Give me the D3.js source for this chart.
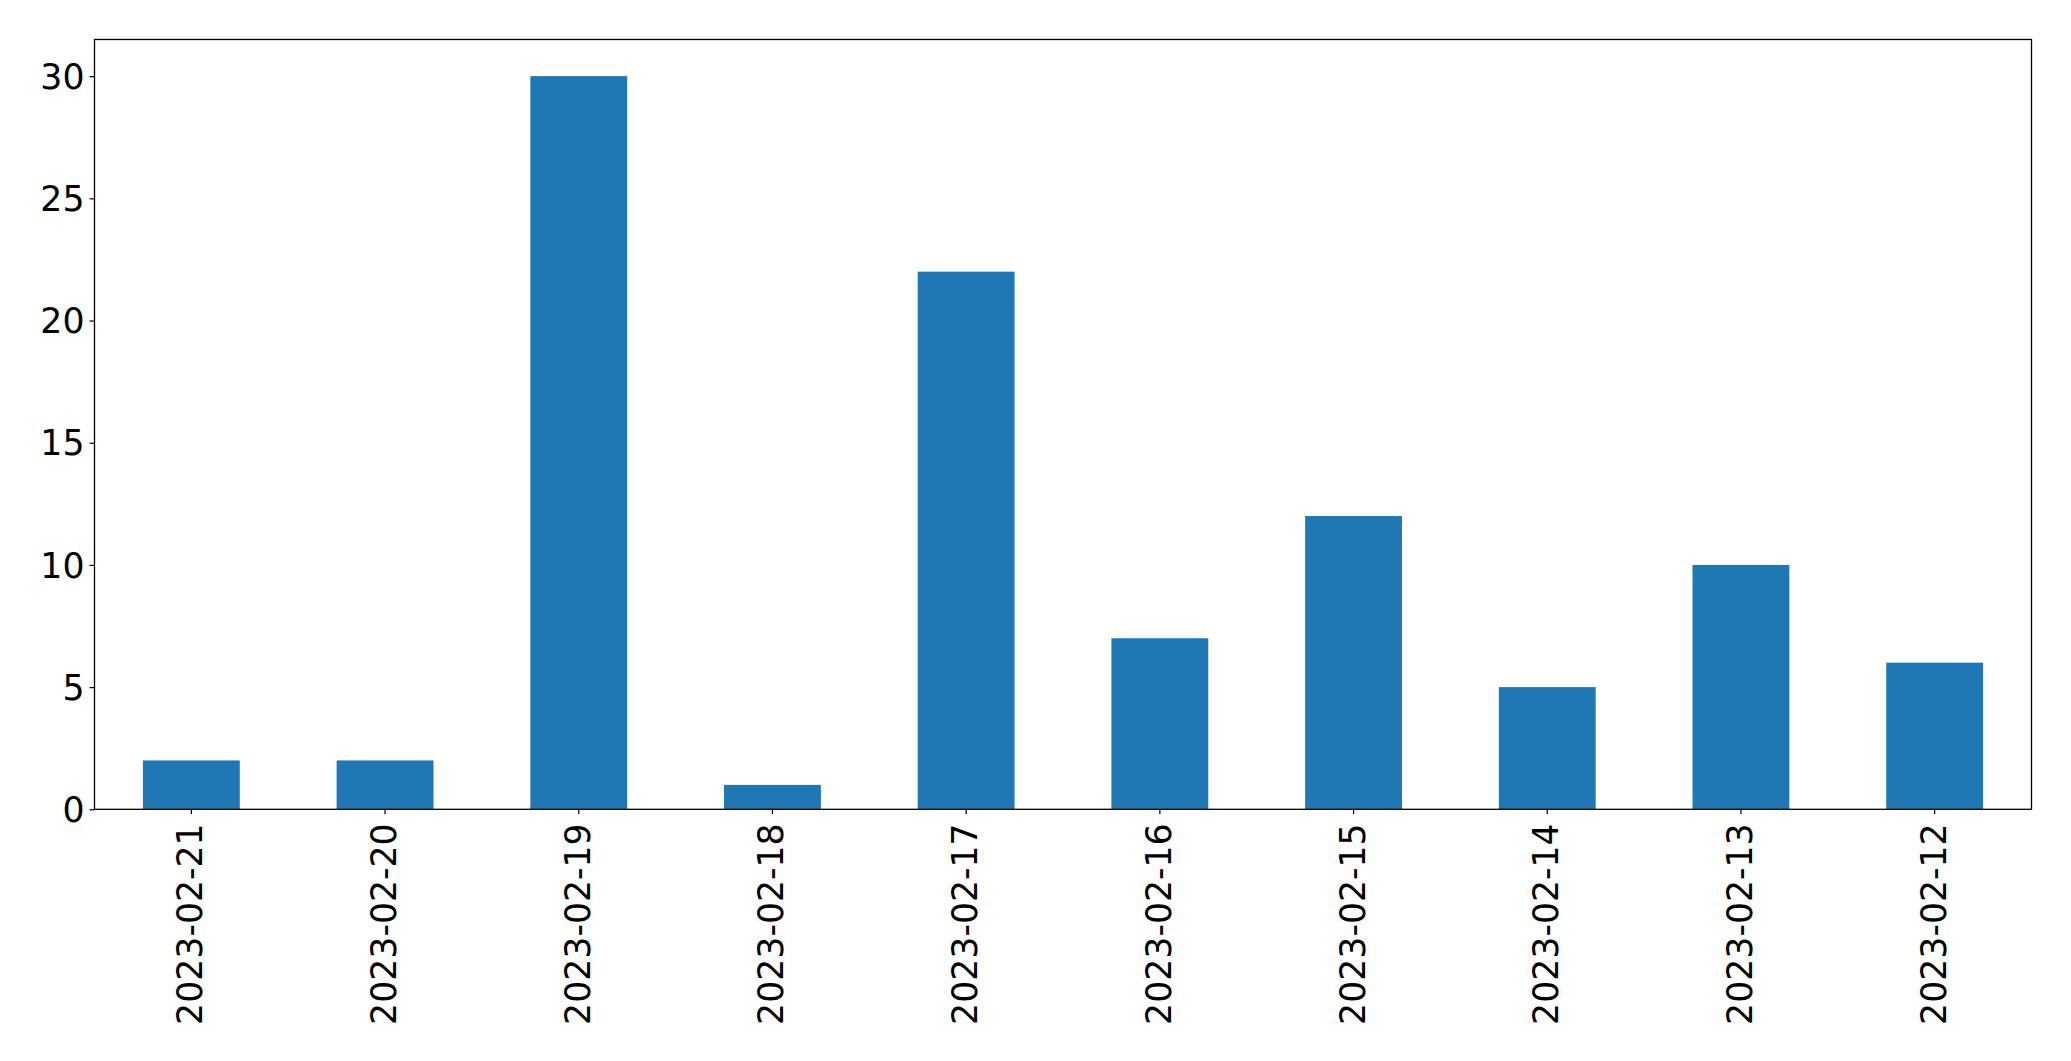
<!DOCTYPE html>
<html>
<head>
<meta charset="utf-8">
<script src="https://cdn.jsdelivr.net/npm/d3@7"></script>
<style>
html, body { margin: 0; padding: 0; background: #fff; }
svg { display: block; }
text { font-family: "DejaVu Sans", sans-serif; fill: #000; }
</style>
</head>
<body>
<svg id="chart" width="2071" height="1061"></svg>
<script>
const categories = ["2023-02-21", "2023-02-20", "2023-02-19", "2023-02-18", "2023-02-17", "2023-02-16", "2023-02-15", "2023-02-14", "2023-02-13", "2023-02-12"];
const values = [2, 2, 30, 1, 22, 7, 12, 5, 10, 6];
const yTicks = [0, 5, 10, 15, 20, 25, 30];

const W = 2071, H = 1061;
const margin = { left: 94.5, right: W - 2031.5, top: 39.5, bottom: H - 809.3 };
const svg = d3.select("#chart");
const iw = W - margin.left - margin.right;
const ih = H - margin.top - margin.bottom;
const g = svg.append("g").attr("transform", `translate(${margin.left},${margin.top})`);

const x = d3.scaleBand().domain(categories).range([0, iw]).paddingInner(0.5).paddingOuter(0.25);
const y = d3.scaleLinear().domain([0, 31.5]).range([ih, 0]);

g.selectAll("rect.bar").data(values).enter().append("rect")
  .attr("class", "bar")
  .attr("x", (d, i) => x(categories[i]))
  .attr("width", x.bandwidth())
  .attr("y", d => y(d))
  .attr("height", d => y(0) - y(d))
  .attr("fill", "#1f77b4");

const fs = 34.7;

// y axis
const yAxis = d3.axisLeft(y).tickValues(yTicks).tickSize(5).tickPadding(5).tickFormat(d3.format("d"));
const ya = g.append("g").call(yAxis);
ya.select(".domain").remove();
ya.selectAll("line").attr("stroke", "#000").attr("stroke-width", 1.2);
ya.selectAll("text").style("font-size", fs + "px").attr("font-family", "DejaVu Sans").attr("dy", "0.35em");

// x axis
const xAxis = d3.axisBottom(x).tickSize(5).tickPadding(0);
const xa = g.append("g").attr("transform", `translate(0,${ih})`).call(xAxis);
xa.select(".domain").remove();
xa.selectAll("line").attr("stroke", "#000").attr("stroke-width", 1.2);
xa.selectAll("text")
  .style("font-size", fs + "px")
  .attr("font-family", "DejaVu Sans")
  .attr("text-anchor", "end")
  .attr("dy", null)
  .attr("dominant-baseline", "central")
  .attr("transform", "translate(-1,14) rotate(-90)")
  .attr("x", 0).attr("y", 0);

// frame
g.append("rect").attr("x", 0).attr("y", 0).attr("width", iw).attr("height", ih)
  .attr("fill", "none").attr("stroke", "#000").attr("stroke-width", 1.3);
</script>
</body>
</html>
